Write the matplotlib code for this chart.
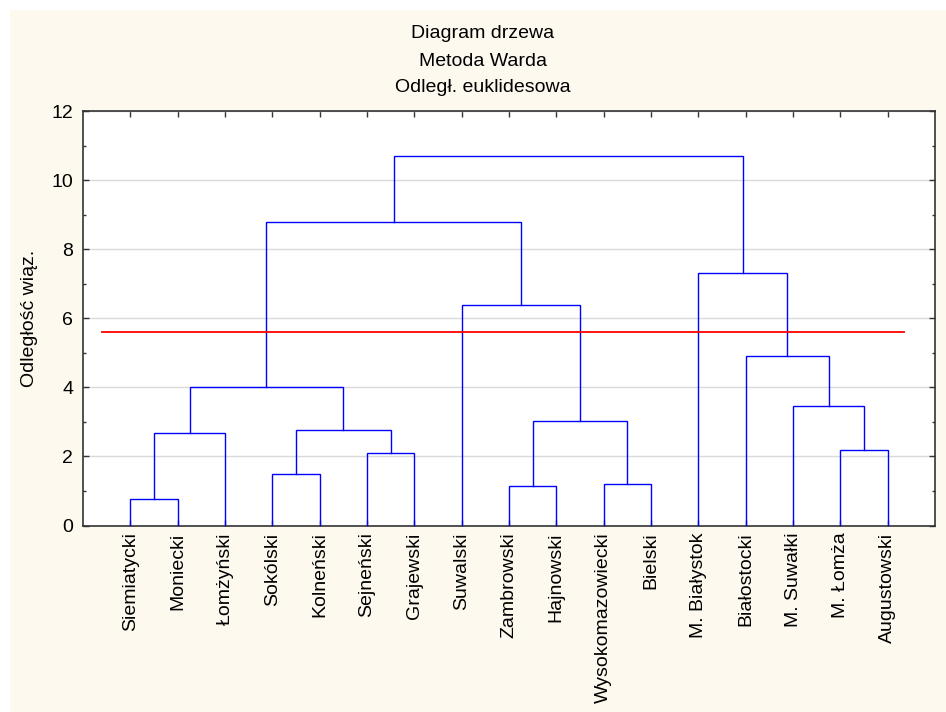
import matplotlib
matplotlib.use('Agg')
import matplotlib.pyplot as plt
from matplotlib.patches import Rectangle
from matplotlib.ticker import MultipleLocator

plt.rcParams['font.family'] = ['Liberation Sans', 'DejaVu Sans']

# leaf labels in dendrogram order
leaves = ['Siemiatycki', 'Moniecki', 'Łomżyński', 'Sokólski', 'Kolneński',
          'Sejneński', 'Grajewski', 'Suwalski', 'Zambrowski', 'Hajnowski',
          'Wysokomazowiecki', 'Bielski', 'M. Białystok', 'Białostocki',
          'M. Suwałki', 'M. Łomża', 'Augustowski']

# merges: (left node, right node, linkage distance); new nodes numbered from 17
merge_left = [0, 17, 3, 5, 19, 18, 8, 10, 23, 7, 22, 15, 14, 13, 12, 27]
merge_right = [1, 2, 4, 6, 20, 21, 9, 11, 24, 25, 26, 16, 28, 29, 30, 31]
merge_height = [0.78, 2.67, 1.48, 2.09, 2.76, 4.02, 1.13, 1.20, 3.03, 6.37,
                8.79, 2.19, 3.45, 4.91, 7.31, 10.69]

cut_height = 5.6

fig = plt.figure(figsize=(9.46, 7.12), dpi=100)
fig.patch.set_facecolor('white')
fig.patches.append(Rectangle((10 / 946, 0), 1, 1 - 10 / 712, transform=fig.transFigure,
                             facecolor='#FDF9EE', edgecolor='none', zorder=-10))

ax = fig.add_axes([83 / 946, 1 - 525.5 / 712, (935 - 83) / 946, (525.5 - 111) / 712])
ax.set_facecolor('white')

# node positions
xpos = {i: i + 1 for i in range(len(leaves))}
ypos = {i: 0.0 for i in range(len(leaves))}
node = len(leaves)
for a, b, h in zip(merge_left, merge_right, merge_height):
    ax.plot([xpos[a], xpos[a], xpos[b], xpos[b]], [ypos[a], h, h, ypos[b]],
            color='#0000FF', linewidth=1.0, solid_joinstyle='miter', zorder=3)
    xpos[node] = (xpos[a] + xpos[b]) / 2
    ypos[node] = h
    node += 1

ax.plot([0.4, 17.35], [cut_height, cut_height], color='#FF0000', linewidth=1.3, zorder=4)

ax.set_xlim(0, len(leaves) + 1)
ax.set_ylim(0, 12)
ax.set_xticks(range(1, len(leaves) + 1))
ax.set_xticklabels(leaves, rotation=90, fontsize=14)
ax.yaxis.set_major_locator(MultipleLocator(2))
ax.yaxis.set_minor_locator(MultipleLocator(1))
ax.tick_params(axis='both', which='both', direction='in', top=True, right=True,
               length=4, width=1, colors='#333333', labelcolor='black')
ax.tick_params(axis='x', pad=5)
ax.tick_params(axis='y', which='major', labelsize=14, pad=7)
ax.tick_params(axis='y', which='minor', length=2)
ax.grid(axis='y', which='major', color='#DADADA', linewidth=1, zorder=0)
for s in ax.spines.values():
    s.set_color('#333333')
    s.set_linewidth(1.2)

ax.set_ylabel('Odległość wiąz.', fontsize=14, labelpad=10)

cx = 483 / 946
fig.text(cx, 1 - 34 / 712, 'Diagram drzewa', ha='center', va='center', fontsize=14)
fig.text(cx, 1 - 61 / 712, 'Metoda Warda', ha='center', va='center', fontsize=14)
fig.text(cx, 1 - 87 / 712, 'Odległ. euklidesowa', ha='center', va='center', fontsize=14)

fig.savefig('out.png', dpi=100)
